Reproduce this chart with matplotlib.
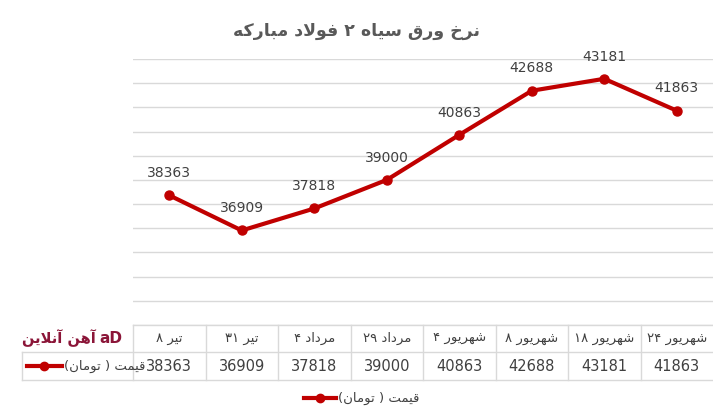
import matplotlib
matplotlib.use("Agg")
import matplotlib.pyplot as plt
import matplotlib.transforms as mtransforms
from matplotlib.lines import Line2D

categories = ["تیر ۸", "تیر ۳۱", "مرداد ۴", "مرداد ۲۹",
              "شهریور ۴", "شهریور ۸", "شهریور ۱۸", "شهریور ۲۴"]
prices = [38363, 36909, 37818, 39000, 40863, 42688, 43181, 41863]
series_name = "قیمت ( تومان)"
title = "نرخ ورق سیاه ۲ فولاد مبارکه"
logo_text = "آهن آنلاین"

# minimal Persian shaping (matplotlib has no bidi / joining)
FORMS = {
    "ا": ("\uFE8D", "\uFE8E", None, None), "آ": ("\uFE81", "\uFE82", None, None),
    "د": ("\uFEA9", "\uFEAA", None, None), "ر": ("\uFEAD", "\uFEAE", None, None),
    "و": ("\uFEED", "\uFEEE", None, None),
    "ب": ("\uFE8F", "\uFE90", "\uFE91", "\uFE92"), "ت": ("\uFE95", "\uFE96", "\uFE97", "\uFE98"),
    "خ": ("\uFEA5", "\uFEA6", "\uFEA7", "\uFEA8"), "س": ("\uFEB1", "\uFEB2", "\uFEB3", "\uFEB4"),
    "ش": ("\uFEB5", "\uFEB6", "\uFEB7", "\uFEB8"), "ف": ("\uFED1", "\uFED2", "\uFED3", "\uFED4"),
    "ق": ("\uFED5", "\uFED6", "\uFED7", "\uFED8"), "ل": ("\uFEDD", "\uFEDE", "\uFEDF", "\uFEE0"),
    "م": ("\uFEE1", "\uFEE2", "\uFEE3", "\uFEE4"), "ن": ("\uFEE5", "\uFEE6", "\uFEE7", "\uFEE8"),
    "ه": ("\uFEE9", "\uFEEA", "\uFEEB", "\uFEEC"), "ی": ("\uFBFC", "\uFBFD", "\uFBFE", "\uFBFF"),
    "ک": ("\uFB8E", "\uFB8F", "\uFB90", "\uFB91"), "پ": ("\uFB56", "\uFB57", "\uFB58", "\uFB59"),
}
LAM_ALEF = {"ا": ("\uFEFB", "\uFEFC"), "آ": ("\uFEF5", "\uFEF6")}


def fa(s):
    out = []
    i = 0
    while i < len(s):
        c = s[i]
        if c not in FORMS:
            out.append(c)
            i += 1
            continue
        prev = s[i - 1] if i > 0 else ""
        jp = prev in FORMS and FORMS[prev][2] is not None
        if c == "ل" and i + 1 < len(s) and s[i + 1] in LAM_ALEF:
            out.append(LAM_ALEF[s[i + 1]][1 if jp else 0])
            i += 2
            continue
        nxt = s[i + 1] if i + 1 < len(s) else ""
        jn = FORMS[c][2] is not None and nxt in FORMS
        iso, fin, ini, med = FORMS[c]
        if jp and jn:
            out.append(med)
        elif jp:
            out.append(fin)
        elif jn:
            out.append(ini)
        else:
            out.append(iso)
        i += 1
    rev = "".join(out)[::-1]
    rev = rev.translate(str.maketrans("()", ")("))
    # keep digit runs left-to-right
    res, run = [], []
    for ch in rev:
        if ch.isdigit():
            run.append(ch)
        else:
            res.extend(run[::-1]); run = []
            res.append(ch)
    res.extend(run[::-1])
    return "".join(res)


RED = "#C00000"
GRID = "#D9D9D9"
TXT = "#404040"

fig = plt.figure(figsize=(7.13, 4.15), dpi=100)
W, H = 713, 415
ax = fig.add_axes([133 / W, (H - 325) / H, 580 / W, 266 / H])
x = list(range(len(prices)))
ax.set_xlim(-0.5, len(prices) - 0.5)
ax.set_ylim(33000, 44000)
ax.set_yticks(range(33000, 44001, 1000))
ax.grid(axis="y", color=GRID, lw=1)
ax.set_axisbelow(True)
ax.tick_params(left=False, bottom=False, labelleft=False, labelbottom=False)
for sp in ax.spines.values():
    sp.set_visible(False)

ax.plot(x, prices, color=RED, lw=3, marker="o", ms=6.5, solid_capstyle="round")
for xi, v in zip(x, prices):
    ax.annotate(str(v), (xi, v), xytext=(0, 11), textcoords="offset points",
                ha="center", va="bottom", fontsize=10, color=TXT)

fig.text(0.5, 1 - 31 / H, fa(title), ha="center", va="center",
         fontsize=12.5, fontweight="bold", color="#595959")

# data table under the plot
tr = mtransforms.blended_transform_factory(ax.transData, fig.transFigure)
ftr = fig.transFigure
y0, y1, y2 = 1 - 325 / H, 1 - 352 / H, 1 - 380 / H
n = len(prices)
ax.add_line(Line2D([-0.5, n - 0.5], [y0, y0], transform=tr, color=GRID, lw=1, clip_on=False))
ax.add_line(Line2D([22 / W, 1], [y1, y1], transform=ftr, color=GRID, lw=1, clip_on=False))
ax.add_line(Line2D([22 / W, 1], [y2, y2], transform=ftr, color=GRID, lw=1, clip_on=False))
ax.add_line(Line2D([22 / W, 22 / W], [y1, y2], transform=ftr, color=GRID, lw=1, clip_on=False))
for k in range(n):
    xb = k - 0.5
    ax.add_line(Line2D([xb, xb], [y0, y2], transform=tr, color=GRID, lw=1, clip_on=False))
for xi, c, v in zip(x, categories, prices):
    ax.text(xi, (y0 + y1) / 2, fa(c), transform=tr, ha="center", va="center",
            fontsize=9.5, color=TXT)
    ax.text(xi, (y1 + y2) / 2, str(v), transform=tr, ha="center", va="center",
            fontsize=10.5, color=TXT)

# series key in table and legend
ax.add_line(Line2D([27 / W, 62 / W], [(y1 + y2) / 2] * 2, transform=ftr, color=RED,
                   lw=3, clip_on=False))
ax.add_line(Line2D([44 / W], [(y1 + y2) / 2], transform=ftr, color=RED, marker="o",
                   ms=6, ls="none", clip_on=False))
fig.text(64 / W, (y1 + y2) / 2, fa(series_name), ha="left", va="center",
         fontsize=9.5, color=TXT)
ax.add_line(Line2D([304 / W, 336 / W], [1 - 398 / H] * 2, transform=ftr, color=RED,
                   lw=3, clip_on=False))
ax.add_line(Line2D([320 / W], [1 - 398 / H], transform=ftr, color=RED, marker="o",
                   ms=6, ls="none", clip_on=False))
fig.text(338 / W, 1 - 398 / H, fa(series_name), ha="left", va="center",
         fontsize=9.5, color=TXT)

# logo
fig.text(96 / W, 1 - 338 / H, fa(logo_text), ha="right", va="center",
         fontsize=10.5, fontweight="bold", color="#8B1538")
fig.text(111 / W, 1 - 338 / H, "aD", ha="center", va="center",
         fontsize=11, fontweight="bold", color="#8B1538")

fig.savefig("out.png", dpi=100)
